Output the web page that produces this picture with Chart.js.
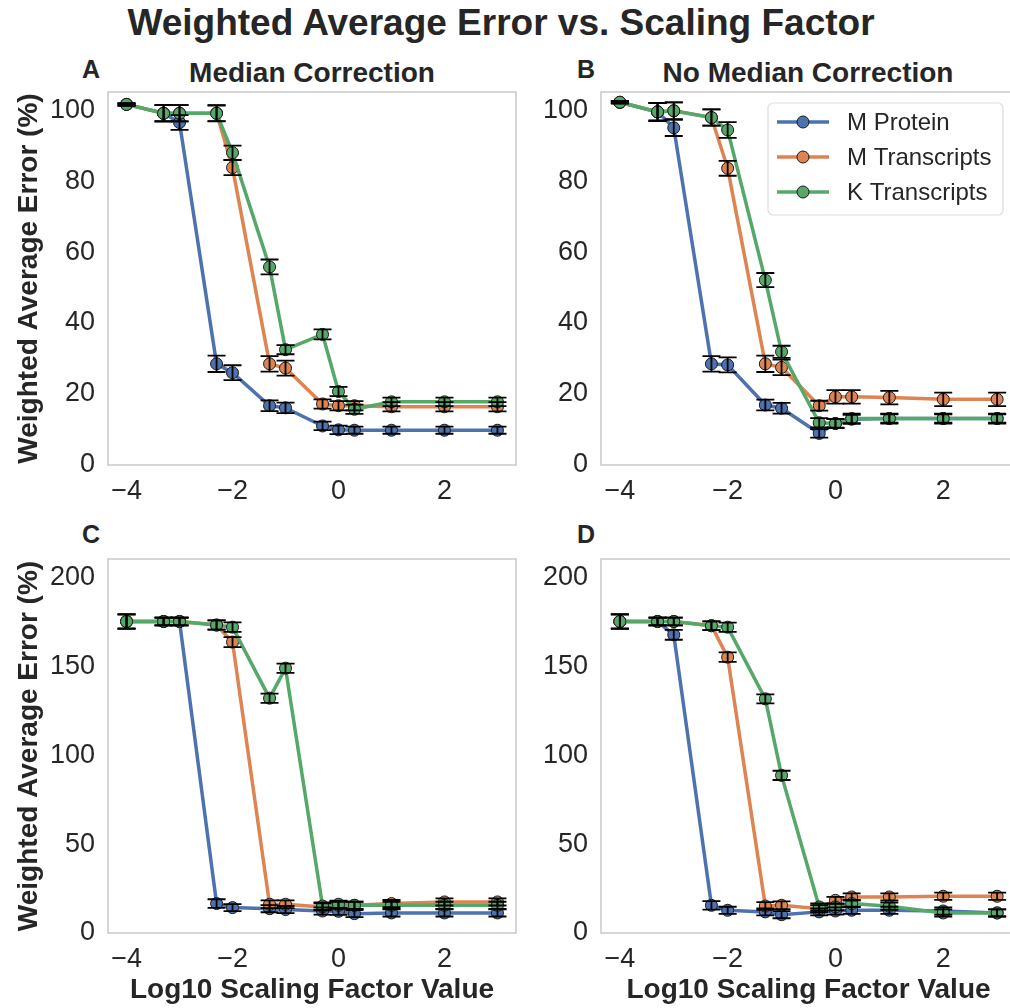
<!DOCTYPE html>
<html>
<head>
<meta charset="utf-8">
<script src="https://cdn.jsdelivr.net/npm/chart.js@4.4.0/dist/chart.umd.min.js"></script>
<style>
html, body { margin:0; padding:0; background:#fff; overflow:hidden; width:1010px; height:1008px; }
#page { position:relative; width:1010px; height:1008px; overflow:hidden; font-family:'Liberation Sans', Arial, sans-serif; color:#262626; }
canvas { position:absolute; }
.txt { position:absolute; font-weight:bold; white-space:nowrap; line-height:1; text-align:center; }
</style>
</head>
<body>
<div id="page">
  <div class="txt" style="left:0;width:1002px;top:4px;font-size:37px">Weighted Average Error vs. Scaling Factor</div>
  <div class="txt" style="left:71px;width:40px;top:57px;font-size:25px">A</div>
  <div class="txt" style="left:566px;width:40px;top:57px;font-size:25px">B</div>
  <div class="txt" style="left:71px;width:40px;top:522px;font-size:25px">C</div>
  <div class="txt" style="left:566px;width:40px;top:522px;font-size:25px">D</div>
  <div class="txt" style="left:112px;width:400px;top:59px;font-size:28px">Median Correction</div>
  <div class="txt" style="left:608px;width:400px;top:59px;font-size:28px">No Median Correction</div>

  <canvas id="chartA" width="530" height="440" style="left:0;top:82px"></canvas>
  <canvas id="chartB" width="500" height="440" style="left:530px;top:82px"></canvas>
  <canvas id="chartC" width="530" height="459" style="left:0;top:549px"></canvas>
  <canvas id="chartD" width="500" height="459" style="left:530px;top:549px"></canvas>
</div>
<script>
// log10 of the scaling factors 0.0001 ... 1000
const logFactor = [-4, -3.301, -3, -2.301, -2, -1.301, -1, -0.301, 0, 0.301, 1, 2, 3];
const seriesNames = ['M Protein', 'M Transcripts', 'K Transcripts'];
const colors = ['#4C72B0', '#DD8452', '#55A868'];

const xTicks = [-4, -2, 0, 2];
const topTicks = [0, 20, 40, 60, 80, 100];
const bottomTicks = [0, 50, 100, 150, 200];

// A - median correction
const aProtein     = [101.6, 99.1, 96.5, 28.5, 26.0, 16.7, 16.1, 11.0, 9.9, 9.8, 9.8, 9.8, 9.8];
const aTranscripts = [101.6, 99.1, 99.1, 99.1, 83.8, 28.5, 27.3, 17.2, 16.7, 16.7, 16.4, 16.4, 16.4];
const aKTranscripts= [101.6, 99.1, 99.1, 99.1, 88.0, 55.8, 32.5, 36.8, 20.7, 15.7, 17.8, 17.8, 17.8];
const aProteinErr     = [0.3, 2.3, 2.1, 2.3, 2.1, 1.5, 1.5, 1.2, 1.2, 1.0, 1.0, 1.0, 1.0];
const aTranscriptsErr = [0.3, 2.3, 2.3, 2.3, 2.1, 2.2, 2.1, 1.3, 1.3, 1.3, 1.3, 1.3, 1.3];
const aKTranscriptsErr= [0.3, 2.3, 2.3, 2.2, 2.0, 2.1, 1.3, 1.4, 1.3, 1.3, 1.2, 1.2, 1.2];

// B - no median correction
const bProtein     = [102.2, 99.5, 95.0, 28.5, 28.2, 16.9, 16.0, 8.9, 11.7, 12.9, 13.1, 13.1, 13.1];
const bTranscripts = [102.2, 99.5, 99.8, 97.9, 83.6, 28.5, 27.5, 16.7, 19.2, 19.2, 19.0, 18.5, 18.5];
const bKTranscripts= [102.2, 99.5, 99.8, 97.9, 94.4, 52.1, 31.9, 11.9, 11.7, 13.1, 13.1, 13.1, 13.1];
const bProteinErr     = [0.3, 2.5, 2.3, 2.2, 2.1, 1.5, 1.5, 1.2, 1.2, 1.2, 1.2, 1.2, 1.2];
const bTranscriptsErr = [0.3, 2.5, 2.4, 2.3, 2.1, 2.3, 2.2, 1.4, 1.9, 1.9, 1.9, 1.9, 1.9];
const bKTranscriptsErr= [0.3, 2.5, 2.4, 2.3, 2.2, 2.0, 1.7, 1.3, 1.3, 1.4, 1.4, 1.4, 1.4];

// C
const cProtein     = [175.5, 175.5, 175.5, 16.6, 14.3, 13.7, 13.2, 12.4, 12.2, 10.9, 11.3, 11.3, 11.3];
const cTranscripts = [175.5, 175.5, 175.5, 173.5, 163.9, 16.2, 16.2, 14.7, 15.6, 15.6, 16.6, 17.5, 17.5];
const cKTranscripts= [175.5, 175.5, 175.5, 173.5, 172.3, 132.3, 149.2, 15.2, 16.2, 15.6, 15.6, 15.6, 15.6];
const cProteinErr     = [4.0, 2.2, 2.2, 2.4, 2.0, 2.0, 2.0, 2.0, 2.0, 2.0, 2.0, 2.0, 2.0];
const cTranscriptsErr = [4.0, 2.2, 2.2, 2.6, 2.8, 2.2, 2.2, 2.0, 2.0, 2.0, 2.0, 2.0, 2.0];
const cKTranscriptsErr= [4.0, 2.2, 2.2, 2.6, 2.7, 2.6, 2.6, 2.0, 2.0, 2.0, 2.0, 2.0, 2.0];

// D
const dProtein     = [175.5, 175.5, 168.0, 15.6, 12.8, 11.9, 10.3, 11.9, 12.4, 12.8, 12.8, 12.4, 11.3];
const dTranscripts = [175.5, 175.5, 175.5, 173.1, 155.4, 15.2, 15.6, 13.7, 18.4, 20.3, 20.3, 20.7, 20.7];
const dKTranscripts= [175.5, 175.5, 175.5, 173.1, 172.3, 131.9, 88.8, 14.7, 14.7, 16.6, 15.1, 11.3, 11.3];
const dProteinErr     = [4.0, 2.2, 2.8, 2.4, 2.0, 2.0, 2.0, 2.0, 2.0, 2.0, 2.0, 2.0, 2.0];
const dTranscriptsErr = [4.0, 2.2, 2.2, 2.5, 2.7, 2.2, 2.2, 2.0, 2.0, 2.0, 2.0, 2.0, 2.0];
const dKTranscriptsErr= [4.0, 2.2, 2.2, 2.5, 2.6, 2.5, 2.6, 2.0, 2.0, 2.0, 2.0, 2.0, 2.0];

const FONT = "'Liberation Sans', Arial, sans-serif";
Chart.defaults.font.family = FONT;
Chart.defaults.color = '#262626';

const fmtTick = v => (v < 0 ? '\u2212' + Math.abs(v) : String(v));

// light grey box around the plot area
const frame = {
  id: 'frame',
  beforeDatasetsDraw(chart) {
    const a = chart.chartArea, ctx = chart.ctx;
    ctx.save();
    ctx.strokeStyle = '#cccccc';
    ctx.lineWidth = 1.6;
    ctx.strokeRect(a.left, a.top, a.right - a.left, a.bottom - a.top);
    ctx.restore();
  }
};

const errorBars = {
  id: 'errorBars',
  afterDatasetsDraw(chart) {
    const ctx = chart.ctx, xs = chart.scales.x, ys = chart.scales.y;
    ctx.save();
    ctx.strokeStyle = '#000';
    ctx.lineWidth = 1.8;
    chart.data.datasets.forEach(ds => {
      ds.data.forEach((p, j) => {
        const e = ds.errors[j];
        const px = xs.getPixelForValue(p.x);
        const top = ys.getPixelForValue(p.y + e);
        const bot = ys.getPixelForValue(p.y - e);
        ctx.beginPath();
        ctx.moveTo(px, top); ctx.lineTo(px, bot);
        ctx.moveTo(px - 9, top); ctx.lineTo(px + 9, top);
        ctx.moveTo(px - 9, bot); ctx.lineTo(px + 9, bot);
        ctx.stroke();
      });
    });
    ctx.restore();
  }
};

// legend box in the top right corner of panel B
const boxLegend = {
  id: 'boxLegend',
  afterDraw(chart) {
    if (!chart.options.plugins.boxLegend.show) return;
    const ctx = chart.ctx, a = chart.chartArea;
    const w = 235, h = 112;
    const x0 = a.right - 13 - w, y0 = a.top + 11;
    ctx.save();
    ctx.fillStyle = 'rgba(255,255,255,0.85)';
    ctx.strokeStyle = '#dddddd';
    ctx.lineWidth = 1.2;
    ctx.beginPath();
    ctx.roundRect(x0, y0, w, h, 5);
    ctx.fill();
    ctx.stroke();
    chart.data.datasets.forEach((ds, i) => {
      const y = y0 + 19 + i * 35;
      ctx.strokeStyle = ds.borderColor;
      ctx.lineWidth = 3.5;
      ctx.beginPath();
      ctx.moveTo(x0 + 9, y); ctx.lineTo(x0 + 61, y);
      ctx.stroke();
      ctx.beginPath();
      ctx.arc(x0 + 35, y, 6, 0, Math.PI * 2);
      ctx.fillStyle = ds.borderColor;
      ctx.fill();
      ctx.strokeStyle = '#1a1a1a';
      ctx.lineWidth = 1;
      ctx.stroke();
      ctx.fillStyle = '#262626';
      ctx.font = '24px ' + FONT;
      ctx.textBaseline = 'middle';
      ctx.textAlign = 'left';
      ctx.fillText(ds.label, x0 + 79, y + 1);
    });
    ctx.restore();
  }
};

function makeDatasets(values, errs) {
  return values.map((v, i) => ({
    label: seriesNames[i],
    data: logFactor.map((x, j) => ({x: x, y: v[j]})),
    errors: errs[i],
    borderColor: colors[i],
    backgroundColor: colors[i],
    borderWidth: 3.5,
    pointRadius: 6,
    pointBackgroundColor: colors[i],
    pointBorderColor: '#1a1a1a',
    pointBorderWidth: 1,
    order: 2 - i
  }));
}

function makePanel(id, values, errs, yMax, yTicks, yWidth, xHeight, showYTitle, showXTitle, showLegend) {
  return new Chart(document.getElementById(id), {
    type: 'line',
    data: {datasets: makeDatasets(values, errs)},
    options: {
      responsive: false,
      animation: false,
      events: [],
      layout: {padding: {top: 10, right: 14, left: 0, bottom: 0}},
      plugins: {
        legend: {display: false},
        tooltip: {enabled: false},
        boxLegend: {show: showLegend}
      },
      scales: {
        x: {
          type: 'linear',
          min: -4.35,
          max: 3.35,
          grid: {display: false, drawTicks: false},
          border: {display: false},
          ticks: {font: {size: 27}, color: '#262626', padding: 10, maxRotation: 0, callback: fmtTick},
          afterBuildTicks: s => { s.ticks = xTicks.map(v => ({value: v})); },
          afterFit: s => { s.height = xHeight; s.paddingLeft = 0; s.paddingRight = 0; },
          title: {
            display: showXTitle,
            text: 'Log10 Scaling Factor Value',
            font: {size: 28, weight: 'bold'},
            color: '#262626',
            padding: {top: 0, bottom: 1.2}
          }
        },
        y: {
          min: 0,
          max: yMax,
          grid: {display: false, drawTicks: false},
          border: {display: false},
          ticks: {font: {size: 27}, color: '#262626', padding: 13, callback: fmtTick},
          afterBuildTicks: s => { s.ticks = yTicks.map(v => ({value: v})); },
          afterFit: s => { s.width = yWidth; s.paddingTop = 0; s.paddingBottom = 0; },
          title: {
            display: showYTitle,
            text: 'Weighted Average Error (%)',
            font: {size: 28, weight: 'bold'},
            color: '#262626',
            padding: {top: 12, bottom: 0}
          }
        }
      }
    },
    plugins: [frame, errorBars, boxLegend]
  });
}

makePanel('chartA', [aProtein, aTranscripts, aKTranscripts], [aProteinErr, aTranscriptsErr, aKTranscriptsErr],
  105.1, topTicks, 108, 57, true, false, false);
makePanel('chartB', [bProtein, bTranscripts, bKTranscripts], [bProteinErr, bTranscriptsErr, bKTranscriptsErr],
  105.1, topTicks, 71, 57, false, false, true);
makePanel('chartC', [cProtein, cTranscripts, cKTranscripts], [cProteinErr, cTranscriptsErr, cKTranscriptsErr],
  210.7, bottomTicks, 108, 75, true, true, false);
makePanel('chartD', [dProtein, dTranscripts, dKTranscripts], [dProteinErr, dTranscriptsErr, dKTranscriptsErr],
  210.7, bottomTicks, 71, 75, false, true, false);
</script>
</body>
</html>
